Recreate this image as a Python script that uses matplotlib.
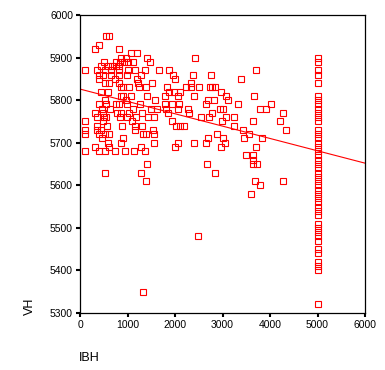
import numpy as np
import matplotlib
matplotlib.use("Agg")
import matplotlib.pyplot as plt

plt.rcParams["font.family"] = ["Liberation Sans", "DejaVu Sans"]

# IBH / VH pairs, read row by row (VH value, list of IBH values)
rows = [
    (5950, [547, 610]),
    (5930, [400]),
    (5920, [316, 821]),
    (5910, [1074, 1200]),
    (5900, [863, 968, 1410, 2421]),
    (5890, [505, 758, 842, 926, 1010, 1116, 1474]),
    (5880, [442, 589, 674, 758, 821]),
    (5870, [105, 358, 526, 653, 821, 1010, 1158, 1368, 1663, 1880, 3705]),
    (5860, [400, 484, 653, 821, 989, 1284, 1958, 2379, 2758]),
    (5850, [400, 737, 1200, 2000, 3389]),
    (5840, [526, 610, 821, 1221, 1516, 2337]),
    (5830, [863, 905, 1031, 1242, 1389, 1831, 2231, 2337, 2505, 2737, 2779, 2842]),
    (5820, [442, 589, 1880, 1979, 2105, 2968]),
    (5810, [863, 905, 1074, 1410, 1789, 2063, 2400, 3073, 3663]),
    (5800, [526, 968, 1579, 2694, 2821, 3115]),
    (5790, [400, 547, 758, 821, 989, 1263, 1789, 1937, 2084, 2652, 3326, 4021]),
    (5780, [463, 632, 1116, 1495, 1621, 1810, 2063, 2273, 2947, 3010, 3789, 3916]),
    (5770, [316, 484, 779, 863, 1031, 1305, 1852, 2295, 2779, 4273]),
    (5760, [358, 505, 547, 842, 989, 1179, 1431, 1558, 2547, 2715, 3073, 3242]),
    (5750, [105, 484, 1095, 1937, 2989, 3642, 4210]),
    (5740, [358, 568, 884, 1158, 1305, 2021, 2105, 2189, 3242]),
    (5730, [105, 358, 442, 1158, 1537, 3431, 4336]),
    (5720, [105, 400, 526, 610, 1326, 1389, 1558, 2884, 3558]),
    (5710, [463, 905, 2694, 3010, 3452, 3831]),
    (5700, [589, 863, 1558, 2063, 2400, 2652, 3052]),
    (5690, [316, 610, 1284, 2000, 2968, 3705]),
    (5680, [105, 400, 526, 737, 947, 1137, 1368]),
    (5670, [3494, 3642]),
    (5660, [3642]),
    (5650, [1410, 2673, 3642, 3726]),
    (5630, [526, 1284, 2842]),
    (5610, [1389, 3684, 4273]),
    (5600, [3789]),
    (5580, [3600]),
    (5480, [2484]),
    (5350, [1326]),
]

# cases with IBH = 5000
vh_at_5000 = [5900, 5890, 5870, 5860, 5840, 5810, 5800, 5790, 5780, 5770,
              5760, 5750, 5730, 5720, 5710, 5700, 5690, 5680, 5670, 5660,
              5650, 5640, 5630, 5620, 5610, 5600, 5590, 5580, 5570, 5560,
              5550, 5540, 5530, 5510, 5500, 5490, 5480, 5470, 5450, 5440,
              5420, 5410, 5400, 5320]

# fitted line
fit_intercept = 5826
fit_slope = -0.029

ibh = [x for vh, xs in rows for x in xs] + [5000] * len(vh_at_5000)
vh = [vh for vh, xs in rows for x in xs] + vh_at_5000

fig = plt.figure(figsize=(3.85, 3.7), dpi=100)
ax = fig.add_axes([80 / 385, 1 - 313 / 370, 285 / 385, 298 / 370])

ax.plot(ibh, vh, linestyle="", marker="s", ms=3.8, mfc="none",
        mec="#ff0000", mew=0.8)

xs = np.array([0, 6000])
ax.plot(xs, fit_intercept + fit_slope * xs, color="#ff0000", lw=0.8)

ax.set_xlim(0, 6000)
ax.set_ylim(5300, 6000)
ax.set_xticks(range(0, 6001, 1000))
ax.set_yticks(range(5300, 6001, 100))
ax.tick_params(direction="out", length=3, width=1.5, labelsize=7.5, pad=2)
for s in ax.spines.values():
    s.set_linewidth(0.9)

fig.text(30 / 385, 1 - 306 / 370, "VH", rotation=90, ha="center", va="center", fontsize=9)
fig.text(79 / 385, 1 - 358 / 370, "IBH", ha="left", va="center", fontsize=9)

fig.savefig("out.png", dpi=100)
